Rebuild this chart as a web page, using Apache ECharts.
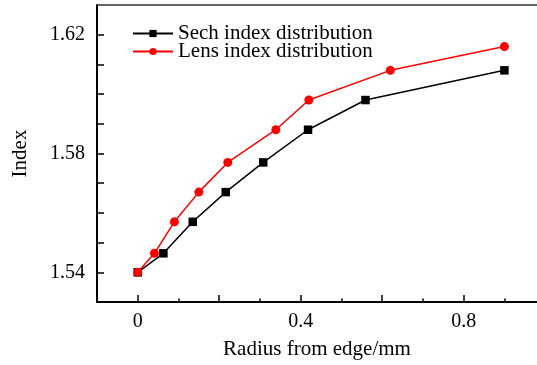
<!DOCTYPE html>
<html>
<head>
<meta charset="utf-8">
<script src="https://cdn.jsdelivr.net/npm/echarts@6/dist/echarts.min.js"></script>
<style>html,body{margin:0;padding:0;background:#fff;}#c{width:537px;height:365px;}</style>
</head>
<body>
<div id="c"></div>
<script>
// Data
const sechX = [0, 0.063, 0.135, 0.216, 0.308, 0.418, 0.559, 0.900];
const sechY = [1.540, 1.5464, 1.557, 1.567, 1.577, 1.588, 1.598, 1.608];
const lensX = [0, 0.041, 0.090, 0.150, 0.221, 0.339, 0.420, 0.620, 0.900];
const lensY = [1.540, 1.5464, 1.557, 1.567, 1.577, 1.588, 1.598, 1.608, 1.616];
const seriesNames = ['Sech index distribution', 'Lens index distribution'];
const xMajorTicks = [0, 0.2, 0.4, 0.6, 0.8];
const xMinorTicks = [0.1, 0.3, 0.5, 0.7, 0.9];
const xTickLabels = [0, 0.4, 0.8];
const yTicks = [1.54, 1.55, 1.56, 1.57, 1.58, 1.59, 1.60, 1.61, 1.62];
const yTickLabels = [1.54, 1.58, 1.62];

const FONT = '"Liberation Serif", "Times New Roman", serif';
const zip = (a, b) => a.map((v, i) => [v, b[i]]);

const chart = echarts.init(document.getElementById('c'), null, {renderer: 'canvas'});
chart.setOption({
  animation: false,
  backgroundColor: '#fff',
  textStyle: {fontFamily: FONT, color: '#000'},
  grid: {left: 97, right: 0, top: 5, bottom: 62, containLabel: false},
  legend: [
    {data: [seriesNames[0]], left: 132, top: 23, padding: 0, itemWidth: 40, itemHeight: 9,
     textStyle: {fontFamily: FONT, fontSize: 21, color: '#000'}},
    {data: [seriesNames[1]], left: 132, top: 41, padding: 0, itemWidth: 40, itemHeight: 9,
     textStyle: {fontFamily: FONT, fontSize: 21, color: '#000'}}
  ],
  xAxis: [
    {type: 'value', min: -0.1, max: 0.98, position: 'bottom',
     name: 'Radius from edge/mm', nameLocation: 'middle', nameGap: 37,
     nameTextStyle: {fontFamily: FONT, fontSize: 21, color: '#000'},
     axisLine: {show: true, onZero: false, lineStyle: {color: '#000', width: 2}},
     axisTick: {show: true, inside: true, length: 7, customValues: xMajorTicks, lineStyle: {color: '#000', width: 1.5}},
     axisLabel: {show: true, customValues: xTickLabels, margin: 10, fontFamily: FONT, fontSize: 20, color: '#000',
       formatter: v => String(v)},
     splitLine: {show: false}},
    {type: 'value', min: -0.1, max: 0.98, position: 'bottom',
     axisLine: {show: false, onZero: false},
     axisTick: {show: true, inside: true, length: 3.5, customValues: xMinorTicks, lineStyle: {color: '#000', width: 1.5}},
     axisLabel: {show: false}, splitLine: {show: false}},
    {type: 'value', min: -0.1, max: 0.98, position: 'top',
     axisLine: {show: true, onZero: false, lineStyle: {color: '#333', width: 1.5}},
     axisTick: {show: false}, axisLabel: {show: false}, splitLine: {show: false}}
  ],
  yAxis: {
    type: 'value', min: 1.53, max: 1.63,
    name: 'Index', nameLocation: 'middle', nameGap: 66, nameRotate: 90,
    nameTextStyle: {fontFamily: FONT, fontSize: 21, color: '#000'},
    axisLine: {show: true, onZero: false, lineStyle: {color: '#000', width: 2}},
    axisTick: {show: true, inside: true, length: 7, customValues: yTicks, lineStyle: {color: '#000', width: 1.5}},
    axisLabel: {show: true, customValues: yTickLabels, margin: 12, fontFamily: FONT, fontSize: 20, color: '#000',
      formatter: v => v.toFixed(2)},
    splitLine: {show: false}
  },
  series: [
    {name: seriesNames[0], type: 'line', xAxisIndex: 0, data: zip(sechX, sechY),
     symbol: 'rect', symbolSize: 8.5, itemStyle: {color: '#000'}, lineStyle: {color: '#000', width: 1.5}, z: 3},
    {name: seriesNames[1], type: 'line', xAxisIndex: 0, data: zip(lensX, lensY),
     symbol: 'circle', symbolSize: 9, itemStyle: {color: '#ff0000'}, lineStyle: {color: '#ff0000', width: 1.5}, z: 4}
  ]
});
</script>
</body>
</html>
